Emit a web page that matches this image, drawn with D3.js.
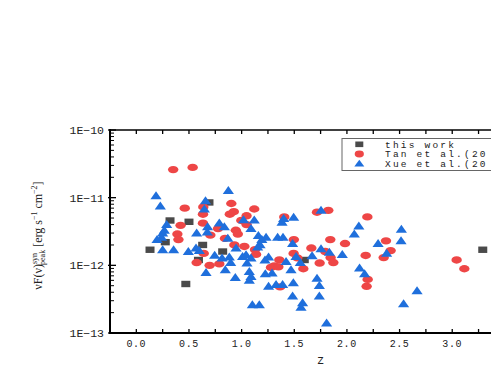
<!DOCTYPE html>
<html>
<head>
<meta charset="utf-8">
<script src="https://cdn.jsdelivr.net/npm/d3@7"></script>
<style>
  html, body { margin: 0; padding: 0; background: #fff; }
  svg { display: block; }
</style>
</head>
<body>
<script>
// ---------------- data ----------------
const thisWorkZ    = [0.13, 0.275, 0.32, 0.50, 0.47, 0.59, 0.63, 0.69, 0.82, 1.595, 3.29];
const thisWorkFlux = [1.7e-12, 2.2e-12, 4.6e-12, 4.4e-12, 5.3e-13, 1.2e-12, 2.0e-12, 8.5e-12, 1.6e-12, 1.2e-12, 1.7e-12];

const tanZ = [0.35, 0.535, 0.46, 0.42, 0.39, 0.40, 0.636, 0.633, 0.633, 0.64, 0.573, 0.703, 0.696, 0.788,
  0.776, 0.842, 0.902, 0.888, 0.926, 0.945, 0.964, 0.931, 1.026, 1.12, 1.047, 0.997, 1.047, 1.127, 1.137,
  1.358, 1.31, 1.279, 1.349, 1.405, 1.496, 1.494, 1.365, 1.529, 1.586, 1.716, 1.823, 2.194, 1.842, 1.982,
  1.662, 1.795, 1.845, 1.871, 1.741, 2.178, 2.371, 2.415, 2.349, 3.042, 3.115, 2.197, 2.187];
const tanFlux = [2.6e-11, 2.8e-11, 7.0e-12, 3.9e-12, 2.9e-12, 2.4e-12, 7.3e-12, 5.7e-12, 4.2e-12, 1.5e-12,
  1.1e-12, 2.8e-12, 1.0e-12, 1.05e-12, 3.5e-12, 2.5e-12, 8.2e-12, 5.7e-12, 6.2e-12, 3.3e-12, 2.9e-12,
  2.0e-12, 1.9e-12, 6.8e-12, 5.4e-12, 4.6e-12, 4.0e-12, 1.7e-12, 1.45e-12, 1.2e-12, 9.8e-13, 9.3e-13,
  9.5e-13, 5.2e-12, 2.4e-12, 1.5e-12, 4.8e-13, 1.29e-12, 8.9e-13, 6.1e-12, 6.5e-12, 5.2e-12, 2.4e-12,
  2.1e-12, 1.8e-12, 1.6e-12, 1.3e-12, 1.1e-12, 1.08e-12, 1.4e-12, 2.3e-12, 1.65e-12, 1.3e-12, 1.2e-12,
  8.9e-13, 6.2e-13, 4.9e-13];

const xueZ = [0.187, 0.228, 0.874, 0.657, 0.646, 0.788, 0.836, 0.677, 1.018, 1.12, 1.089, 0.288, 0.266,
  0.25, 0.24, 0.197, 0.573, 0.674, 1.159, 1.232, 1.342, 1.393, 1.384, 1.399, 1.494, 0.869, 1.192, 1.175,
  1.152, 0.947, 0.25, 0.354, 0.494, 0.567, 0.598, 0.744, 0.814, 0.883, 0.896, 1.009, 1.042, 1.089, 1.051,
  1.222, 1.256, 1.422, 1.517, 0.662, 0.845, 0.940, 1.073, 1.089, 1.073, 1.225, 1.289, 1.256, 1.327, 1.389,
  1.469, 1.491, 1.484, 1.102, 1.168, 1.579, 1.564, 1.807, 2.538, 1.754, 2.113, 2.07, 2.517, 2.514, 2.296,
  2.377, 1.956, 1.754, 1.833, 1.669, 1.484, 1.557, 1.716, 1.738, 2.12, 2.168, 1.738, 2.666];
const xueFlux = [1.06e-11, 7.5e-12, 1.27e-11, 9.0e-12, 6.8e-12, 4.2e-12, 3.7e-12, 3.7e-12, 4.7e-12, 4.65e-12,
  3.5e-12, 4.0e-12, 3.3e-12, 3.0e-12, 2.6e-12, 2.4e-12, 3.0e-12, 3.1e-12, 2.75e-12, 2.6e-12, 2.6e-12,
  2.6e-12, 4.3e-12, 4.9e-12, 5.1e-12, 2.5e-12, 2.4e-12, 2.0e-12, 1.86e-12, 1.8e-12, 1.7e-12, 1.7e-12,
  1.6e-12, 1.8e-12, 1.65e-12, 1.4e-12, 1.28e-12, 1.32e-12, 1.1e-12, 1.35e-12, 1.43e-12, 1.28e-12, 1.08e-12,
  1.2e-12, 1.32e-12, 1.14e-12, 1.35e-12, 7.8e-13, 8.6e-13, 6.6e-13, 8.1e-13, 6.8e-13, 6.0e-13, 7.5e-13,
  7.7e-13, 4.9e-13, 5.2e-13, 5.2e-13, 8.6e-13, 5.5e-13, 3.5e-13, 2.6e-13, 2.6e-13, 2.8e-13, 2.4e-13,
  1.4e-13, 2.7e-13, 6.5e-12, 3.8e-12, 2.9e-12, 3.4e-12, 2.3e-12, 2.1e-12, 1.5e-12, 1.44e-12, 1.75e-12,
  1.55e-12, 1.38e-12, 2.1e-12, 1.1e-12, 6.4e-13, 5.0e-13, 9.1e-13, 7.5e-13, 3.5e-13, 4.2e-13];

const xTicks = [0, 0.5, 1.0, 1.5, 2.0, 2.5, 3.0];
const xMinorTicks = [-0.25, 0.25, 0.75, 1.25, 1.75, 2.25, 2.75, 3.25, 3.5, 3.75];
const yTicks = [1e-13, 1e-12, 1e-11, 1e-10];
const yTickLabels = ["1E\u221213", "1E\u221212", "1E\u221211", "1E\u221210"];
// legend texts as visible in the (right-cropped) reference
const legendLabels = ["this work", "Tan et al.(20", "Xue et al.(20"];
const xLabel = "z";

(function () {
// ---------------- layout ----------------
const W = 491, H = 382;
const pL = 110, pR = 531.2, pT = 130, pB = 333;
const colBlack = "#4a4a4a", colRed = "#ee4646", colBlue = "#1f6fdc";

const svg = d3.select("body").append("svg").attr("width", W).attr("height", H);

const x = d3.scaleLinear().domain([-0.25, 3.75]).range([pL, pR]);
const y = d3.scaleLog().domain([1e-13, 1e-10]).range([pB, pT]);

const monoFont = "'Liberation Mono', 'DejaVu Sans Mono', monospace";

// minor y ticks
const yMinor = [];
for (let e = -13; e < -10; e++) for (let m = 2; m <= 9; m++) yMinor.push(m * Math.pow(10, e));

// ---- markers ----
const gPts = svg.append("g");
const sq = d3.range(thisWorkZ.length).map(i => ({z: thisWorkZ[i], f: thisWorkFlux[i]}));
const tan = d3.range(tanZ.length).map(i => ({z: tanZ[i], f: tanFlux[i]}));
const xue = d3.range(xueZ.length).map(i => ({z: xueZ[i], f: xueFlux[i]}));

gPts.selectAll("rect.sq").data(sq).join("rect").attr("class", "sq")
  .attr("x", d => x(d.z) - 4.5).attr("y", d => y(d.f) - 3.2)
  .attr("width", 9).attr("height", 6.4).attr("fill", colBlack);

gPts.selectAll("ellipse.tan").data(tan).join("ellipse").attr("class", "tan")
  .attr("cx", d => x(d.z)).attr("cy", d => y(d.f))
  .attr("rx", 5.2).attr("ry", 3.7).attr("fill", colRed);

const triPath = "M0,-4.6L5.6,3.4L-5.6,3.4Z";
gPts.selectAll("path.xue").data(xue).join("path").attr("class", "xue")
  .attr("d", triPath)
  .attr("transform", d => `translate(${x(d.z)},${y(d.f)})`)
  .attr("fill", colBlue);

// ---- axes frame ----
const gAx = svg.append("g").attr("stroke", "#000").attr("fill", "none");
gAx.append("line").attr("x1", pL).attr("x2", pL).attr("y1", pT - 1).attr("y2", pB + 1).attr("stroke-width", 2);
gAx.append("line").attr("x1", pL - 1).attr("x2", pR).attr("y1", pB).attr("y2", pB).attr("stroke-width", 2);
gAx.append("line").attr("x1", pL).attr("x2", pR).attr("y1", pT).attr("y2", pT).attr("stroke-width", 1.5);
gAx.append("line").attr("x1", pR).attr("x2", pR).attr("y1", pT).attr("y2", pB).attr("stroke-width", 1.5);

xTicks.concat(xMinorTicks).forEach(t => {
  gAx.append("line").attr("x1", x(t)).attr("x2", x(t)).attr("y1", pB).attr("y2", pB - 4).attr("stroke-width", 1.3);
  gAx.append("line").attr("x1", x(t)).attr("x2", x(t)).attr("y1", pT).attr("y2", pT + 4).attr("stroke-width", 1.3);
});
yTicks.forEach(t => {
  gAx.append("line").attr("x1", pL - 2).attr("x2", pL + 6).attr("y1", y(t)).attr("y2", y(t)).attr("stroke-width", 1.3);
});
yMinor.forEach(t => {
  gAx.append("line").attr("x1", pL).attr("x2", pL + 4).attr("y1", y(t)).attr("y2", y(t)).attr("stroke-width", 1);
});

// x tick labels
svg.append("g").selectAll("text").data(xTicks).join("text")
  .attr("x", d => x(d)).attr("y", pB + 14)
  .attr("text-anchor", "middle")
  .attr("font-family", monoFont).attr("font-size", 10).attr("letter-spacing", 0.6)
  .attr("fill", "#222")
  .text(d => d.toFixed(1));

// y tick labels
svg.append("g").selectAll("text").data(yTicks).join("text")
  .attr("x", pL - 6).attr("y", d => y(d) + 4)
  .attr("text-anchor", "end")
  .attr("font-family", monoFont).attr("font-size", 11.5)
  .attr("fill", "#222")
  .text((d, i) => yTickLabels[i]);

// x label
svg.append("text").attr("x", (pL + pR) / 2).attr("y", 364)
  .attr("text-anchor", "middle").attr("font-family", monoFont).attr("font-size", 12)
  .attr("fill", "#222").text(xLabel);

// y label (rotated)
const yl = svg.append("text")
  .attr("transform", `translate(42,${(pT + pB) / 2 + 4}) rotate(-90)`)
  .attr("text-anchor", "middle")
  .attr("font-family", "'Liberation Serif', 'DejaVu Serif', serif")
  .attr("font-size", 12).attr("fill", "#222");
yl.append("tspan").text("\u03BDF(\u03BD)");
yl.append("tspan").attr("font-size", 8).attr("dy", -5).text("syn");
yl.append("tspan").attr("font-size", 8).attr("dx", -12).attr("dy", 8).text("peak");
yl.append("tspan").attr("dy", -3).text(" [erg s");
yl.append("tspan").attr("font-size", 8).attr("dy", -5).text("\u22121");
yl.append("tspan").attr("dy", 5).text(" cm");
yl.append("tspan").attr("font-size", 8).attr("dy", -5).text("\u22122");
yl.append("tspan").attr("dy", 5).text("]");

// legend
const lg = svg.append("g");
lg.append("rect").attr("x", 342).attr("y", 138.5).attr("width", 200).attr("height", 32)
  .attr("fill", "#fff").attr("stroke", "#666").attr("stroke-width", 1);
const rowY = [144.3, 154, 163.5];
lg.append("rect").attr("x", 359.3 - 4).attr("y", rowY[0] - 2.8).attr("width", 8).attr("height", 5.6).attr("fill", colBlack);
lg.append("ellipse").attr("cx", 359.3).attr("cy", rowY[1]).attr("rx", 4.6).attr("ry", 3.4).attr("fill", colRed);
lg.append("path").attr("d", "M0,-3.8L5,3L-5,3Z").attr("transform", `translate(359.3,${rowY[2]})`).attr("fill", colBlue);
lg.selectAll("text").data(legendLabels).join("text")
  .attr("x", 385).attr("y", (d, i) => rowY[i] + 3.2)
  .attr("font-family", monoFont).attr("font-size", 9.5).attr("letter-spacing", 2.2)
  .attr("fill", "#222").text(d => d);
})();
</script>
</body>
</html>
